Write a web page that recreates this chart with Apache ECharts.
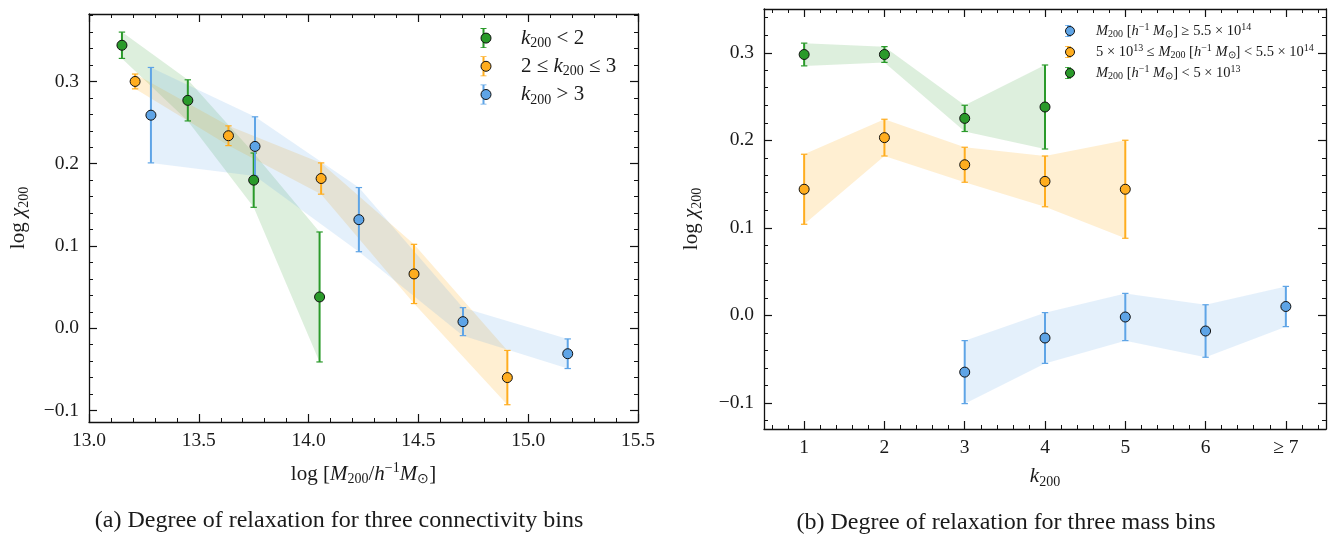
<!DOCTYPE html>
<html>
<head>
<meta charset="utf-8">
<script src="https://cdn.jsdelivr.net/npm/echarts@6/dist/echarts.min.js"></script>
<style>
  html, body { margin: 0; padding: 0; background: #fff; }
  #chart { width: 1334px; height: 535px; }
</style>
</head>
<body>
<div id="chart"></div>
<script>
// ---- Panel (a): log chi_200 against halo mass, one series per connectivity bin ----
const massLowK  = [13.15, 13.45, 13.75, 14.05];
const chiLowK   = [0.344, 0.277, 0.180, 0.038];
const errLowK   = [0.016, 0.025, 0.033, 0.079];

const massMidK  = [13.21, 13.635, 14.057, 14.48, 14.905];
const chiMidK   = [0.300, 0.234, 0.182, 0.066, -0.060];
const errMidK   = [0.009, 0.012, 0.019, 0.036, 0.033];

const massHighK = [13.282, 13.756, 14.229, 14.703, 15.18];
const chiHighK  = [0.259, 0.221, 0.132, 0.008, -0.031];
const errHighK  = [0.058, 0.036, 0.039, 0.017, 0.018];

// ---- Panel (b): log chi_200 against connectivity, one series per mass bin ----
const kTickLabels = ['1', '2', '3', '4', '5', '6', '≥ 7'];

const kHighM   = [3, 4, 5, 6, 7];
const chiHighM = [-0.065, -0.026, -0.002, -0.018, 0.010];
const errHighM = [0.036, 0.029, 0.027, 0.030, 0.023];

const kMidM    = [1, 2, 3, 4, 5];
const chiMidM  = [0.144, 0.203, 0.172, 0.153, 0.144];
const errMidM  = [0.040, 0.021, 0.020, 0.029, 0.056];

const kLowM    = [1, 2, 3, 4];
const chiLowM  = [0.298, 0.298, 0.225, 0.238];
const errLowM  = [0.013, 0.009, 0.015, 0.048];

// ---- tick positions ----
const massMajorTicks = [13.0, 13.5, 14.0, 14.5, 15.0, 15.5];
const chiMajorTicks  = [-0.1, 0.0, 0.1, 0.2, 0.3];
const kMajorTicks    = [1, 2, 3, 4, 5, 6, 7];

const GREEN = '#2a9a2a', ORANGE = '#ffad1f', BLUE = '#5ea4e6';
const SERIF = 'Liberation Serif';
const INK = '#1a1a1a';
const TICK_FONT = 19.5;
const TITLE_FONT = 21;

function steps(start, stop, step, skip) {
  const out = [];
  for (let v = start; v <= stop + 1e-9; v += step) {
    const r = Math.round(v * 1000) / 1000;
    if (!skip.some(s => Math.abs(s - r) < 1e-6)) out.push(r);
  }
  return out;
}
const massMinorTicks  = steps(13.0, 15.5, 0.1, massMajorTicks);
const chiMinorTicksA  = steps(-0.10, 0.38, 0.02, chiMajorTicks);
const chiMinorTicksB  = steps(-0.12, 0.34, 0.02, chiMajorTicks);
const kMinorTicks     = steps(0.6, 7.4, 0.2, kMajorTicks);

function rich(size, color) {
  const small = Math.round(size * 0.68);
  return {
    r:  { fontFamily: SERIF, fontSize: size, color: color },
    i:  { fontFamily: SERIF, fontSize: size, fontStyle: 'italic', color: color },
    sb: { fontFamily: SERIF, fontSize: small, color: color, padding: [Math.round(size * 0.5), 0, 0, 0] },
    sp: { fontFamily: SERIF, fontSize: small, color: color, padding: [0, 0, Math.round(size * 0.55), 0] }
  };
}

const minus = v => String(v).replace('-', '−');

// Four overlapping axes per side pair: major + minor ticks on both edges, ticks pointing inward.
function axesFor(dim, gridIndex, min, max, major, minor, opts) {
  const sides = dim === 'x' ? ['bottom', 'top'] : ['left', 'right'];
  const out = [];
  sides.forEach((pos, si) => {
    [true, false].forEach(isMajor => {
      const main = si === 0 && isMajor;
      const ax = {
        type: 'value', gridIndex, min, max, position: pos,
        axisLine: { show: isMajor, onZero: false, lineStyle: { color: '#111', width: 1.3 } },
        axisTick: {
          show: true, inside: true, length: isMajor ? 8 : 4,
          customValues: isMajor ? major : minor,
          lineStyle: { color: '#111', width: isMajor ? 1.2 : 1 }
        },
        minorTick: { show: false },
        splitLine: { show: false },
        axisLabel: { show: false }
      };
      if (main) {
        ax.axisLabel = {
          show: true, customValues: major, formatter: opts.fmt,
          margin: opts.labelMargin, fontFamily: SERIF, fontSize: TICK_FONT, color: INK
        };
        ax.name = opts.name;
        ax.nameLocation = 'middle';
        ax.nameGap = opts.nameGap;
        ax.nameTextStyle = { rich: rich(TITLE_FONT, INK) };
      }
      out.push(ax);
    });
  });
  return out;
}

const xAxes = [].concat(
  axesFor('x', 0, 13.0, 15.5, massMajorTicks, massMinorTicks, {
    fmt: v => v.toFixed(1), labelMargin: 9, nameGap: 39,
    name: '{r|log [}{i|M}{sb|200}{r|/}{i|h}{sp|−1}{i|M}{sb|⊙}{r|]}'
  }),
  axesFor('x', 1, 0.5, 7.5, kMajorTicks, kMinorTicks, {
    fmt: v => kTickLabels[Math.round(v) - 1], labelMargin: 9, nameGap: 35,
    name: '{i|k}{sb|200}'
  })
);
const yAxes = [].concat(
  axesFor('y', 0, -0.114, 0.382, chiMajorTicks, chiMinorTicksA, {
    fmt: v => minus(v.toFixed(1)), labelMargin: 10, nameGap: 58,
    name: '{r|log }{i|χ}{sb|200}'
  }),
  axesFor('y', 1, -0.13, 0.35, chiMajorTicks, chiMinorTicksB, {
    fmt: v => minus(v.toFixed(1)), labelMargin: 10, nameGap: 60,
    name: '{r|log }{i|χ}{sb|200}'
  })
);

function hexA(hex, a) {
  const n = parseInt(hex.slice(1), 16);
  return `rgba(${(n >> 16) & 255},${(n >> 8) & 255},${n & 255},${a})`;
}

// Shaded band, error bars and markers for one group of points.
function group(name, xs, ys, errs, color, bandAlpha, panel) {
  const axIdx = { xAxisIndex: panel * 4, yAxisIndex: panel * 4 };
  const rng = xs.map((x, i) => [x, ys[i] - errs[i], ys[i] + errs[i]]);
  return [
    Object.assign({
      name: name + ' band', type: 'custom', z: 1, silent: true,
      data: rng, encode: { x: 0, y: [1, 2] },
      renderItem(params, api) {
        if (params.dataIndexInside !== 0) return null;
        const n = params.dataInsideLength, up = [], down = [];
        for (let i = 0; i < n; i++) {
          up.push(api.coord([api.value(0, i), api.value(2, i)]));
          down.unshift(api.coord([api.value(0, i), api.value(1, i)]));
        }
        return { type: 'polygon', shape: { points: up.concat(down) },
                 style: { fill: hexA(color, bandAlpha), stroke: null } };
      }
    }, axIdx),
    Object.assign({
      name: name + ' err', type: 'custom', z: 3, silent: true,
      data: rng, encode: { x: 0, y: [1, 2] },
      renderItem(params, api) {
        const x = api.value(0);
        const lo = api.coord([x, api.value(1)]), hi = api.coord([x, api.value(2)]);
        const c = 3.2;
        return { type: 'group', children: [
          { type: 'line', shape: { x1: lo[0], y1: lo[1], x2: hi[0], y2: hi[1] }, style: { stroke: color, lineWidth: 2 } },
          { type: 'line', shape: { x1: lo[0] - c, y1: lo[1], x2: lo[0] + c, y2: lo[1] }, style: { stroke: color, lineWidth: 1.2 } },
          { type: 'line', shape: { x1: hi[0] - c, y1: hi[1], x2: hi[0] + c, y2: hi[1] }, style: { stroke: color, lineWidth: 1.2 } }
        ] };
      }
    }, axIdx),
    Object.assign({
      name: name, type: 'scatter', z: 4, symbol: 'circle', symbolSize: 10,
      itemStyle: { color: color, borderColor: '#111', borderWidth: 1, opacity: 1 },
      data: xs.map((x, i) => [x, ys[i]])
    }, axIdx)
  ];
}

const series = [].concat(
  group('lowK',  massLowK,  chiLowK,  errLowK,  GREEN,  0.16, 0),
  group('midK',  massMidK,  chiMidK,  errMidK,  ORANGE, 0.2,  0),
  group('highK', massHighK, chiHighK, errHighK, BLUE,   0.17, 0),
  group('lowM',  kLowM,  chiLowM,  errLowM,  GREEN,  0.16, 1),
  group('midM',  kMidM,  chiMidM,  errMidM,  ORANGE, 0.2,  1),
  group('highM', kHighM, chiHighM, errHighM, BLUE,   0.17, 1)
);

const legendText = {
  lowK:  '{i|k}{sb|200}{r| < 2}',
  midK:  '{r|2 ≤ }{i|k}{sb|200}{r| ≤ 3}',
  highK: '{i|k}{sb|200}{r| > 3}',
  highM: '{i|M}{sb|200}{r| [}{i|h}{sp|−1}{r| }{i|M}{sb|⊙}{r|] ≥ 5.5 × 10}{sp|14}',
  midM:  '{r|5 × 10}{sp|13}{r| ≤ }{i|M}{sb|200}{r| [}{i|h}{sp|−1}{r| }{i|M}{sb|⊙}{r|] < 5.5 × 10}{sp|14}',
  lowM:  '{i|M}{sb|200}{r| [}{i|h}{sp|−1}{r| }{i|M}{sb|⊙}{r|] < 5 × 10}{sp|13}'
};
const colorOf = { lowK: GREEN, midK: ORANGE, highK: BLUE, lowM: GREEN, midM: ORANGE, highM: BLUE };

// Legend drawn in two layers: error-bar glyph underneath, marker + label on top.
function barPath(h) {
  const w = 6, t = 0.8, b = 1.0;
  return `path://M0,0H${w}V${t}H${w / 2 + b}V${h - t}H${w}V${h}H0V${h - t}H${w / 2 - b}V${t}H0Z`;
}
function legendPair(names, left, top, width, barH, markH, fontSize, lineH) {
  const base = {
    orient: 'vertical', left, top, itemWidth: width, itemGap: 0,
    selectedMode: false, formatter: n => legendText[n]
  };
  const withLineHeight = r => { Object.keys(r).forEach(k => { r[k].lineHeight = lineH; }); return r; };
  return [
    Object.assign({}, base, {
      itemHeight: barH,
      data: names.map(n => ({ name: n, icon: barPath(barH), itemStyle: { color: colorOf[n], borderWidth: 0 } })),
      textStyle: { lineHeight: lineH, rich: withLineHeight(rich(fontSize, 'rgba(0,0,0,0)')) }
    }),
    Object.assign({}, base, {
      itemHeight: markH, icon: 'circle',
      data: names,
      itemStyle: { borderColor: '#111', borderWidth: 1 },
      textStyle: { lineHeight: lineH, rich: withLineHeight(rich(fontSize, INK)) }
    })
  ];
}

const legends = [].concat(
  legendPair(['lowK', 'midK', 'highK'], 475.5, 19, 60, 20, 10, 21, 28.2),
  legendPair(['highM', 'midM', 'lowM'], 1060, 15.5, 42, 12, 9, 14.5, 21)
);

const chart = echarts.init(document.getElementById('chart'), null, { renderer: 'canvas' });
chart.setOption({
  backgroundColor: '#fff',
  animation: false,
  grid: [
    { left: 89, top: 14, width: 549, height: 408, outerBoundsMode: 'none' },
    { left: 764, top: 9, width: 562, height: 420, outerBoundsMode: 'none' }
  ],
  xAxis: xAxes,
  yAxis: yAxes,
  legend: legends,
  series: series,
  graphic: [
    { type: 'text', x: 339, y: 521, style: { text: '(a) Degree of relaxation for three connectivity bins',
      align: 'center', verticalAlign: 'middle', font: '24px "Liberation Serif"', fill: INK } },
    { type: 'text', x: 1006, y: 523, style: { text: '(b) Degree of relaxation for three mass bins',
      align: 'center', verticalAlign: 'middle', font: '24px "Liberation Serif"', fill: INK } }
  ]
});
</script>
</body>
</html>
